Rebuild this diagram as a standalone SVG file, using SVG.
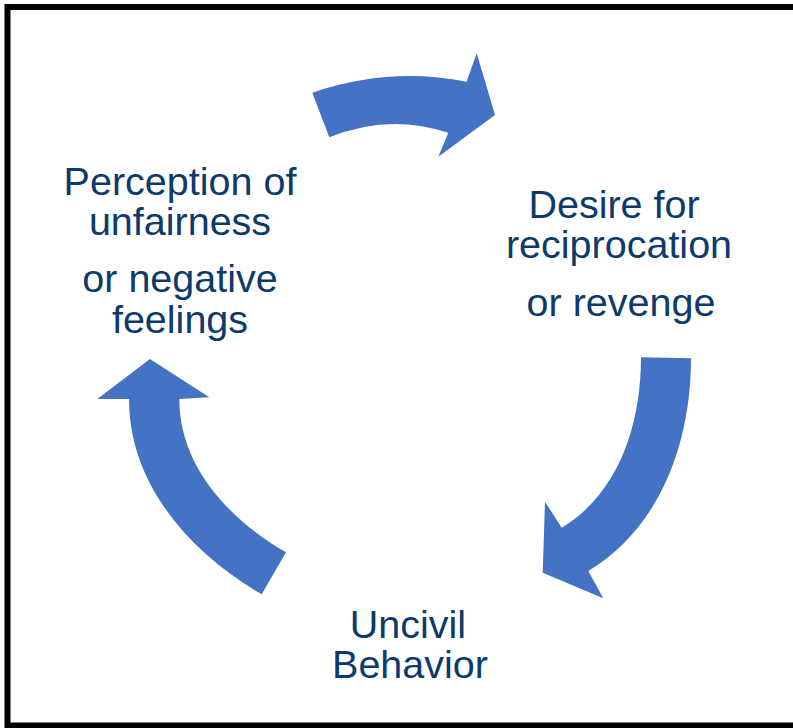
<svg xmlns="http://www.w3.org/2000/svg" width="793" height="728" viewBox="0 0 793 728">
  <style>
    .arrow { fill: #4472C4; }
    .label { font-family: "Liberation Sans", Arial, sans-serif; font-size: 39.5px; fill: #0D3A6B; text-anchor: middle; }
  </style>
  <rect x="0" y="0" width="793" height="728" fill="#FFFFFF"/>
  <!-- frame, open on the right edge -->
  <rect x="7.5" y="7" width="800" height="718.5" fill="none" stroke="#000000" stroke-width="6"/>

  <g id="connectors">
    <!-- top: perception -> desire -->
    <path class="arrow" d="M312.3,92.7 Q389.5,66.5 466.5,81.7 L476.7,53.3 L495,115 L438.3,156.7 L448.3,132.7 Q388.8,113 329.3,137.3 Z"/>
    <!-- right: desire -> uncivil behavior -->
    <path class="arrow" d="M641,357.3 L691,358.3 C691,442.6 660.5,527.4 588.3,571 L603.3,598.3 L542.7,572.7 L545,501.7 L561.7,527.7 C619.1,493.1 641,424.3 641,357.3 Z"/>
    <!-- left: uncivil behavior -> perception -->
    <path class="arrow" d="M261.7,594.3 C188.7,552.1 129,483.3 129,399 L97.3,399 L150,359 L209.3,397.3 L179.3,399 C179.3,465.7 228.2,518.9 286,552.3 Z"/>
  </g>

  <g id="node-perception">
    <text class="label" x="180" y="195">Perception of</text>
    <text class="label" x="180" y="235">unfairness</text>
    <text class="label" x="180" y="292">or negative</text>
    <text class="label" x="180" y="333">feelings</text>
  </g>

  <g id="node-desire">
    <text class="label" x="614" y="218">Desire for</text>
    <text class="label" x="619" y="258">reciprocation</text>
    <text class="label" x="621" y="316">or revenge</text>
  </g>

  <g id="node-uncivil">
    <text class="label" x="408" y="638">Uncivil</text>
    <text class="label" x="410" y="678">Behavior</text>
  </g>
</svg>
